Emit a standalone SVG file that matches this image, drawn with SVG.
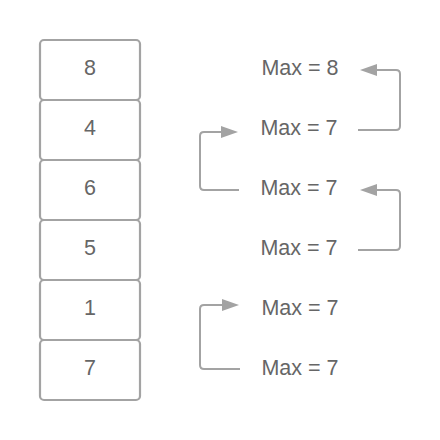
<svg xmlns="http://www.w3.org/2000/svg" width="440" height="440" viewBox="0 0 440 440">
<style>
.box{fill:#fff;stroke:#a3a3a3;stroke-width:2.2}
.t{font-family:"Liberation Sans",Arial,sans-serif;font-size:21.5px;fill:#666;text-anchor:middle}
.c{fill:none;stroke:#a3a3a3;stroke-width:2;stroke-linejoin:round}
.ah{fill:#a3a3a3}
</style>
<rect width="440" height="440" fill="#fff"/>
<g id="n8"><rect class="box" x="40" y="40" width="100" height="60" rx="4"/><text class="t" x="90" y="75">8</text></g>
<g id="n4"><rect class="box" x="40" y="100" width="100" height="60" rx="4"/><text class="t" x="90" y="135">4</text></g>
<g id="n6"><rect class="box" x="40" y="160" width="100" height="60" rx="4"/><text class="t" x="90" y="195">6</text></g>
<g id="n5"><rect class="box" x="40" y="220" width="100" height="60" rx="4"/><text class="t" x="90" y="255">5</text></g>
<g id="n1"><rect class="box" x="40" y="280" width="100" height="60" rx="4"/><text class="t" x="90" y="315">1</text></g>
<g id="n7"><rect class="box" x="40" y="340" width="100" height="60" rx="4"/><text class="t" x="90" y="375">7</text></g>
<g id="m1"><text class="t" x="300" y="75">Max = 8</text></g>
<g id="m2"><text class="t" x="299" y="135">Max = 7</text></g>
<g id="m3"><text class="t" x="299" y="195">Max = 7</text></g>
<g id="m4"><text class="t" x="299" y="255">Max = 7</text></g>
<g id="m5"><text class="t" x="300" y="315">Max = 7</text></g>
<g id="m6"><text class="t" x="300" y="375">Max = 7</text></g>
<g id="connectors">
<path class="c" d="M358,130 L396,130 Q400,130 400,126 L400,74 Q400,70 396,70 L370,70" />
<path class="ah" d="M360,70 L377,64 L377,76 Z"/>
<path class="c" d="M239,190 L204,190 Q200,190 200,186 L200,136 Q200,132 204,132 L228,132" />
<path class="ah" d="M238,132 L221,126 L221,138 Z"/>
<path class="c" d="M358,250 L396,250 Q400,250 400,246 L400,194 Q400,190 396,190 L370,190" />
<path class="ah" d="M360,190 L377,184 L377,196 Z"/>
<path class="c" d="M240,369 L204,369 Q200,369 200,365 L200,309 Q200,305 204,305 L229,305" />
<path class="ah" d="M239,305 L222,299 L222,311 Z"/>
</g>
</svg>
